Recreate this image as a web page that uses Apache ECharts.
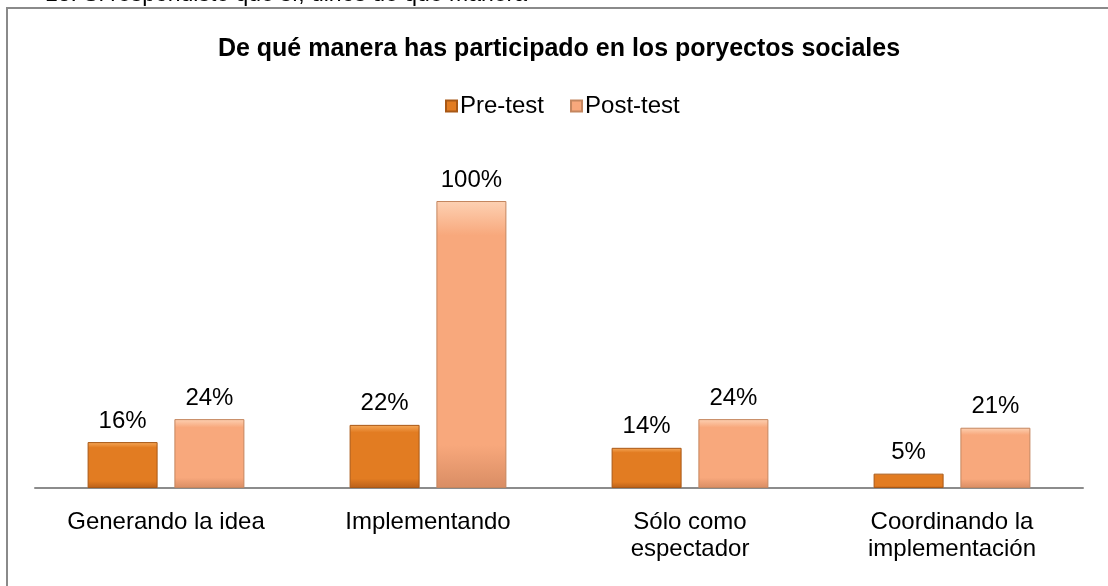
<!DOCTYPE html>
<html>
<head>
<meta charset="utf-8">
<script src="https://cdn.jsdelivr.net/npm/echarts@6/dist/echarts.min.js"></script>
<style>
  html, body { margin: 0; padding: 0; background: #ffffff; }
  #chart { width: 1108px; height: 586px; }
</style>
</head>
<body>
<div id="chart"></div>
<script>
var categories = ['Generando la idea', 'Implementando', 'Sólo como\nespectador', 'Coordinando la\nimplementación'];
var preTest = [16, 22, 14, 5];
var postTest = [24, 100, 24, 21];
var seriesNames = ['Pre-test', 'Post-test'];

var FONT = '"Liberation Sans", Arial, sans-serif';

function bevel(light, mid, dark) {
    return new echarts.graphic.LinearGradient(0, 0, 0, 1, [
        { offset: 0, color: light },
        { offset: 0.12, color: mid },
        { offset: 0.85, color: mid },
        { offset: 1, color: dark }
    ]);
}

var myChart = echarts.init(document.getElementById('chart'));

var option = {
    backgroundColor: '#ffffff',
    animation: false,
    title: {
        text: 'De qué manera has participado en los poryectos sociales',
        left: 554,
        textAlign: 'center',
        top: 32,
        textStyle: { fontFamily: FONT, fontSize: 25, fontWeight: 'bold', color: '#000' }
    },
    legend: {
        data: seriesNames,
        top: 89,
        left: 440,
        itemWidth: 11,
        itemHeight: 11,
        itemGap: 26,
        icon: 'rect',
        textStyle: { fontFamily: FONT, fontSize: 24, color: '#000', padding: [0, 0, 0, -2] }
    },
    grid: { left: 35, right: 25, top: 201, bottom: 98 },
    xAxis: {
        type: 'category',
        data: categories,
        axisLine: { lineStyle: { color: '#8c8c8c', width: 2 } },
        axisTick: { show: false },
        axisLabel: {
            fontFamily: FONT, fontSize: 24, color: '#000', margin: 21,
            lineHeight: 27, interval: 0
        }
    },
    yAxis: {
        type: 'value',
        min: 0,
        max: 100,
        show: false,
        splitLine: { show: false }
    },
    series: [
        {
            name: seriesNames[0],
            type: 'bar',
            data: preTest,
            barWidth: 70,
            barGap: '24%',
            itemStyle: {
                color: bevel('#f6a95a', '#e27c22', '#b9601a'),
                borderColor: '#a85816',
                borderWidth: 1
            },
            label: {
                show: true, position: 'top', distance: 9, formatter: '{c}%',
                fontFamily: FONT, fontSize: 24, color: '#000'
            }
        },
        {
            name: seriesNames[1],
            type: 'bar',
            data: postTest,
            barWidth: 70,
            itemStyle: {
                color: bevel('#fdd1b3', '#f8a87c', '#d98d64'),
                borderColor: '#c4865f',
                borderWidth: 1
            },
            label: {
                show: true, position: 'top', distance: 9, formatter: '{c}%',
                fontFamily: FONT, fontSize: 24, color: '#000'
            }
        }
    ],
    graphic: [
        {
            type: 'rect',
            shape: { x: 7, y: 8, width: 1140, height: 620 },
            style: { fill: 'none', stroke: '#8a8a8a', lineWidth: 2 },
            silent: true
        },
        {
            type: 'text',
            x: 45,
            y: 6,
            style: {
                text: '13. Si respondiste que sí, dinos de qué manera',
                font: '23px ' + FONT,
                fill: '#000',
                verticalAlign: 'bottom'
            },
            silent: true
        }
    ]
};

option && myChart.setOption(option);

window.onresize = function () {
    myChart.resize();
};
</script>
</body>
</html>
